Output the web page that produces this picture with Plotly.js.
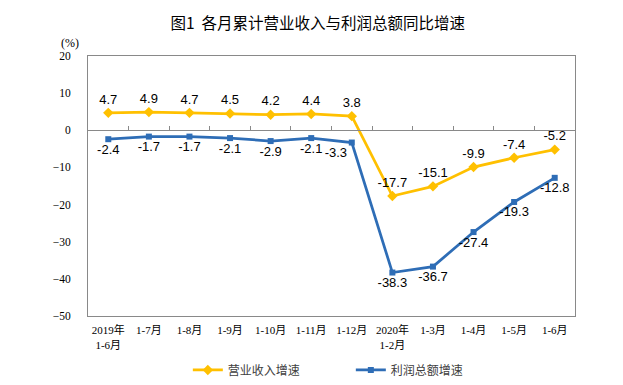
<!DOCTYPE html>
<html>
<head>
<meta charset="utf-8">
<script src="https://cdn.plot.ly/plotly-3.0.1.min.js"></script>
<style>html,body{margin:0;padding:0;background:#fff;}#chart{width:623px;height:385px;}</style>
</head>
<body>
<div id="chart"></div>
<script>
var categories = ["2019年<br>1-6月", "1-7月", "1-8月", "1-9月", "1-10月", "1-11月", "1-12月", "2020年<br>1-2月", "1-3月", "1-4月", "1-5月", "1-6月"];
var revenueGrowth = [4.7, 4.9, 4.7, 4.5, 4.2, 4.4, 3.8, -17.7, -15.1, -9.9, -7.4, -5.2];
var profitGrowth = [-2.4, -1.7, -1.7, -2.1, -2.9, -2.1, -3.3, -38.3, -36.7, -27.4, -19.3, -12.8];
var seriesNames = ["营业收入增速", "利润总额增速"];
var titleText = "图1&#160;&#160;各月累计营业收入与利润总额同比增速";

var revPos = ["top center","top center","top center","top center","top center","top center","top center","top center","top center","top center","top center","top center"];
var profPos = ["bottom center","bottom center","bottom center","bottom center","bottom center","bottom center","bottom left","bottom center","bottom center","bottom center","bottom center","bottom center"];

var labelFont = {family: "Liberation Sans, Arial, sans-serif", size: 13, color: "#000"};
var cjkSans = "Noto Sans CJK SC, sans-serif";
var serif = "Liberation Serif, Noto Sans CJK SC, serif";

var traces = [
  {
    x: categories, y: revenueGrowth, name: seriesNames[0], type: "scatter", mode: "lines+markers+text",
    line: {color: "#FFC000", width: 2.75},
    marker: {symbol: "diamond", size: 8, color: "#FFC000"},
    text: revenueGrowth.map(function(v){return v.toFixed(1);}),
    textposition: revPos, textfont: labelFont, cliponaxis: false, hoverinfo: "skip"
  },
  {
    x: categories, y: profitGrowth, name: seriesNames[1], type: "scatter", mode: "lines+markers+text",
    line: {color: "#2E6DB6", width: 2.75},
    marker: {symbol: "square", size: 6, color: "#2E6DB6"},
    text: profitGrowth.map(function(v){return v.toFixed(1);}),
    textposition: profPos, textfont: labelFont, cliponaxis: false, hoverinfo: "skip"
  },
  {
    x: [0], y: [0], xaxis: "x2", yaxis: "y", mode: "none", showlegend: false, hoverinfo: "skip", type: "scatter"
  }
];

var layout = {
  width: 623, height: 385,
  margin: {l: 88, r: 48, t: 56, b: 69, autoexpand: false},
  paper_bgcolor: "#fff", plot_bgcolor: "#fff",
  title: {text: titleText, font: {family: cjkSans, size: 15.5, color: "#000"}, x: 0.51, xanchor: "center", xref: "container", y: 0.94, yanchor: "middle", yref: "container"},
  showlegend: true,
  legend: {orientation: "h", x: 0.205, xanchor: "left", xref: "paper", y: 0.039, yanchor: "middle", yref: "container",
           font: {family: cjkSans, size: 12, color: "#404040"}, entrywidth: 118, entrywidthmode: "pixels", traceorder: "normal"},
  xaxis: {
    type: "category", showgrid: false, zeroline: false, ticks: "",
    showline: true, linecolor: "#898989", linewidth: 1, mirror: true,
    tickfont: {family: serif, size: 11, color: "#000"}, ticklabelstandoff: 4,
    range: [-0.5, 11.5], automargin: false
  },
  xaxis2: {
    overlaying: "x", anchor: "free", position: 50/70, side: "top", type: "linear",
    range: [-0.5, 11.5], tickvals: [0.5,1.5,2.5,3.5,4.5,5.5,6.5,7.5,8.5,9.5,10.5],
    ticks: "outside", ticklen: 4, tickcolor: "#898989", showticklabels: false,
    showline: true, linecolor: "#898989", linewidth: 1, showgrid: false, zeroline: false, automargin: false
  },
  yaxis: {
    range: [-50, 20], dtick: 10, tick0: 0, showgrid: false, zeroline: false, ticks: "",
    showline: true, linecolor: "#898989", linewidth: 1, mirror: true,
    tickfont: {family: serif, size: 11.5, color: "#000"}, ticklabelstandoff: 14, automargin: false
  },
  annotations: [
    {text: "(%)", xref: "paper", yref: "paper", x: -0.037, y: 1.05, xanchor: "center", yanchor: "middle", showarrow: false,
     font: {family: serif, size: 12, color: "#000"}}
  ]
};

Plotly.newPlot("chart", traces, layout, {displayModeBar: false, staticPlot: true});
</script>
</body>
</html>
